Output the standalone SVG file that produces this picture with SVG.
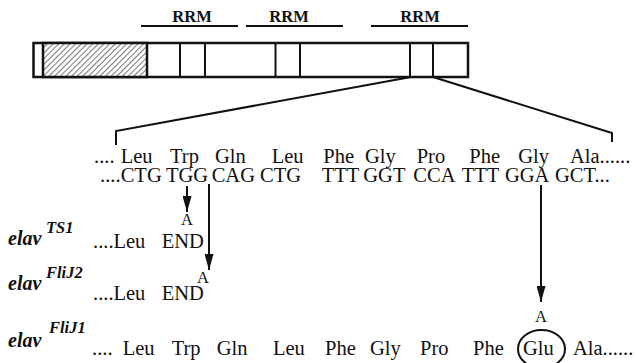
<svg xmlns="http://www.w3.org/2000/svg" width="636" height="363" viewBox="0 0 636 363" font-family="'Liberation Serif', 'Times New Roman', serif">
<style>
text{font-family:'Liberation Serif','Times New Roman',serif;fill:#111}
.t{font-size:20.5px}
.rrm{font-size:16.5px;font-weight:bold;text-anchor:middle}
.lab{font-size:20px;font-weight:bold;font-style:italic}
.sup{font-size:16.5px;font-weight:bold;font-style:italic}
.a{font-size:16.5px;text-anchor:middle}
.ln{stroke:#111;stroke-width:2;fill:none}
.box{stroke:#111;stroke-width:2.5;fill:#fff}
</style>
<defs>
<pattern id="hatch" width="4" height="4" patternUnits="userSpaceOnUse" patternTransform="rotate(45)">
<rect width="4" height="4" fill="#fff"/>
<line x1="0" y1="0" x2="0" y2="4" stroke="#555" stroke-width="1.6"/>
</pattern>
<marker id="ah" markerWidth="16" markerHeight="9" refX="16" refY="4.5" orient="auto" markerUnits="userSpaceOnUse" viewBox="0 0 16 9">
<path d="M0,0 L16,4.5 L0,9 Z" fill="#111"/>
</marker>
</defs>

<g id="domains">
<line class="ln" x1="141" y1="26" x2="238" y2="26"/>
<line class="ln" x1="246" y1="26" x2="343" y2="26"/>
<line class="ln" x1="371" y1="26" x2="468" y2="26"/>
<text class="rrm" x="192" y="22">RRM</text>
<text class="rrm" x="289" y="22">RRM</text>
<text class="rrm" x="420" y="22">RRM</text>
</g>

<g id="protein">
<rect class="box" x="33.5" y="43" width="434.5" height="34"/>
<rect x="43" y="43" width="104" height="34" fill="url(#hatch)" stroke="#111" stroke-width="2.5"/>
<g class="ln" stroke-width="2.5">
<line x1="180" y1="43" x2="180" y2="77"/>
<line x1="205" y1="43" x2="205" y2="77"/>
<line x1="275.5" y1="43" x2="275.5" y2="77"/>
<line x1="300" y1="43" x2="300" y2="77"/>
<line x1="410" y1="43" x2="410" y2="77"/>
<line x1="433" y1="43" x2="433" y2="77"/>
</g>
</g>

<g id="connectors">
<polyline class="ln" points="411,77 116,131 116,145"/>
<polyline class="ln" points="433,77 612,133 612,142"/>
<line class="ln" x1="187" y1="186" x2="187" y2="212" marker-end="url(#ah)"/>
<line class="ln" x1="209" y1="184" x2="209" y2="270" marker-end="url(#ah)"/>
<line class="ln" x1="541" y1="185" x2="541" y2="302" marker-end="url(#ah)"/>
</g>

<g id="wildtype">
<text class="t" y="163"><tspan x="94">....</tspan><tspan x="120.7">Leu</tspan><tspan x="170">Trp</tspan><tspan x="215">Gln</tspan><tspan x="271.7">Leu</tspan><tspan x="323.3">Phe</tspan><tspan x="365">Gly</tspan><tspan x="416.7">Pro</tspan><tspan x="469.3">Phe</tspan><tspan x="518.3">Gly</tspan><tspan x="570">Ala......</tspan></text>
<text class="t" y="182"><tspan x="100">....</tspan><tspan x="120.7">CTG</tspan><tspan x="166">TGG</tspan><tspan x="211.7">CAG</tspan><tspan x="260">CTG</tspan><tspan x="321.7">TTT</tspan><tspan x="363.3">GGT</tspan><tspan x="413.3">CCA</tspan><tspan x="461.7">TTT</tspan><tspan x="505">GGA</tspan><tspan x="555">GCT...</tspan></text>
</g>

<g id="ts1">
<text class="a" x="187" y="225">A</text>
<text class="lab" x="8" y="245">elav</text>
<text class="sup" x="46" y="232.7">TS1</text>
<text class="t" y="248"><tspan x="93">....Leu</tspan><tspan x="161.7">END</tspan></text>
</g>

<g id="flij2">
<text class="a" x="203" y="283">A</text>
<text class="lab" x="8" y="290">elav</text>
<text class="sup" x="46" y="278.3">FliJ2</text>
<text class="t" y="300"><tspan x="93">....Leu</tspan><tspan x="161.7">END</tspan></text>
</g>

<g id="flij1">
<text class="a" x="541" y="321.7">A</text>
<text class="lab" x="8" y="346.7">elav</text>
<text class="sup" x="49" y="333.3">FliJ1</text>
<text class="t" y="355"><tspan x="92">....</tspan><tspan x="122.7">Leu</tspan><tspan x="171.7">Trp</tspan><tspan x="216.7">Gln</tspan><tspan x="273">Leu</tspan><tspan x="325">Phe</tspan><tspan x="370">Gly</tspan><tspan x="420">Pro</tspan><tspan x="473">Phe</tspan><tspan x="523">Glu</tspan><tspan x="573">Ala......</tspan></text>
<ellipse cx="541.5" cy="349" rx="23.5" ry="19" fill="none" stroke="#111" stroke-width="2"/>
</g>
</svg>
